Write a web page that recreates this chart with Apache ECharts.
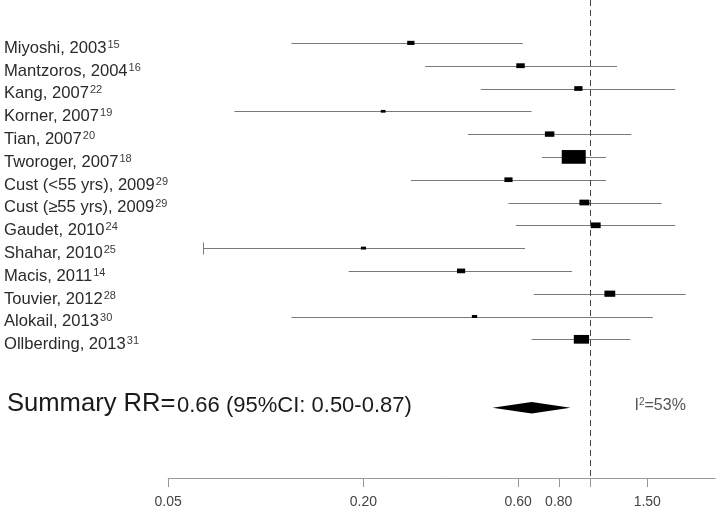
<!DOCTYPE html>
<html><head><meta charset="utf-8">
<script src="https://cdn.jsdelivr.net/npm/echarts@6/dist/echarts.min.js"></script>
<style>html,body{margin:0;padding:0;background:#fff}#c{width:720px;height:512px}</style>
</head><body><div id="c"></div>
<script>
// ---- data ----
const studies = ['Miyoshi, 2003','Mantzoros, 2004','Kang, 2007','Korner, 2007','Tian, 2007','Tworoger, 2007',
  'Cust (<55 yrs), 2009','Cust (\u226555 yrs), 2009','Gaudet, 2010','Shahar, 2010','Macis, 2011','Touvier, 2012',
  'Alokail, 2013','Ollberding, 2013'];
const refs = ['15','16','22','19','20','18','29','29','24','25','14','28','30','31'];
const rr    = [0.28,0.61,0.92,0.23,0.75,0.89,0.56,0.96,1.04,0.20,0.40,1.15,0.44,0.94];
const lower = [0.12,0.31,0.46,0.08,0.42,0.71,0.28,0.56,0.59,0.064,0.18,0.67,0.12,0.66];
const upper = [0.62,1.21,1.83,0.66,1.34,1.12,1.12,1.66,1.83,0.63,0.88,1.97,1.56,1.33];
const weights = [30,41,39,13,51,329,38,57,57,15,38,67,16,133];
const cappedRows = [9];
const summaryRR = [0.66, 0.50, 0.87];   // estimate, lower, upper
const I2 = [53];
const tickValues = [0.05,0.2,0.6,0.8,1,1.5];
const tickLabels = ['0.05','0.20','0.60','0.80','','1.50'];

// ---- layout / style ----
const FONT = "'Liberation Sans', Arial, sans-serif";
const SUMMARY_ROW = 16;
const Y_MIN = -1.8816, Y_MAX = 19.083;
const ASPECT = 1.75;
const LINE_C = '#7a7a7a';
const crisp = v => Math.round(v) + 0.5;

const chart = echarts.init(document.getElementById('c'), null, {renderer:'canvas'});

const rowData = studies.map((s,i) => [i, lower[i], rr[i], upper[i], weights[i]]);

const option = {
  animation: false,
  backgroundColor: '#fff',
  grid: {left: 168.2, right: 4.8, top: 0, bottom: 34, containLabel: false},
  xAxis: {
    type: 'log', logBase: 10, min: 0.05, max: 2.43,
    axisLine: {show: true, onZero: false, lineStyle: {color: '#999', width: 1}},
    axisTick: {show: false}, axisLabel: {show: false}, splitLine: {show: false}
  },
  yAxis: {type: 'value', inverse: true, min: Y_MIN, max: Y_MAX, show: false},
  series: [
    {
      type: 'custom', name: 'studies', coordinateSystem: 'cartesian2d',
      encode: {x: [1,2,3], y: 0},
      data: rowData,
      renderItem(params, api) {
        const i = api.value(0);
        const lo = api.coord([api.value(1), i]);
        const mid = api.coord([api.value(2), i]);
        const hi = api.coord([api.value(3), i]);
        const w = api.value(4);
        const bw = Math.sqrt(w * ASPECT), bh = Math.sqrt(w / ASPECT);
        const y = crisp(mid[1]);
        const children = [
          {type:'line', shape:{x1:lo[0], y1:y, x2:hi[0], y2:y}, style:{stroke:LINE_C, lineWidth:1}},
          {type:'rect', shape:{x:mid[0]-bw/2, y:mid[1]-bh/2, width:bw, height:bh}, style:{fill:'#000'}},
          {type:'text', x: 4, y: mid[1] + 5.4, style:{
            text: '{n|' + studies[i] + '}{s|' + refs[i] + '}',
            align:'left', verticalAlign:'middle',
            rich: {
              n: {fontSize:16.6, lineHeight:18, fontFamily:FONT, fill:'#2a2a2a'},
              s: {fontSize:11, lineHeight:12, fontFamily:FONT, fill:'#3a3a3a', verticalAlign:'top', padding:[0,0,0,1]}
            }
          }}
        ];
        if (cappedRows.indexOf(i) >= 0) {
          children.push({type:'line', shape:{x1:crisp(lo[0]), y1:y-6, x2:crisp(lo[0]), y2:y+6}, style:{stroke:LINE_C, lineWidth:1}});
        }
        return {type:'group', children};
      },
      markLine: {
        silent: true, symbol: ['none','none'],
        label: {show:false},
        lineStyle: {color:'#444', width:1, type:[6,4]},
        data: [{xAxis: 1}]
      }
    },
    {
      type: 'custom', name: 'summary', coordinateSystem: 'cartesian2d',
      encode: {x: [0,1,2], y: 3},
      data: [[summaryRR[1], summaryRR[0], summaryRR[2], SUMMARY_ROW]],
      renderItem(params, api) {
        const r = api.value(3);
        const l = api.coord([api.value(0), r]);
        const m = api.coord([api.value(1), r]);
        const u = api.coord([api.value(2), r]);
        const h = 5.8;
        const txt = summaryRR[0].toFixed(2) + ' (95%CI: ' + summaryRR[1].toFixed(2) + '-' + summaryRR[2].toFixed(2) + ')';
        return {type:'group', children:[
          {type:'polygon', shape:{points:[[l[0],m[1]],[m[0],m[1]-h],[u[0],m[1]],[m[0],m[1]+h]]}, style:{fill:'#000'}},
          {type:'text', x: 7, y: m[1] - 4, style:{
            text: '{a|Summary RR=}{b|' + txt + '}',
            align:'left', verticalAlign:'middle',
            rich: {
              a: {fontSize:25.6, lineHeight:26, fontFamily:FONT, fill:'#1a1a1a'},
              b: {fontSize:22, lineHeight:23, fontFamily:FONT, fill:'#1a1a1a', verticalAlign:'bottom', padding:[0,0,0,1.5]}
            }
          }},
          {type:'text', x: 634.5, y: m[1] - 2.3, style:{
            text: '{n|I}{s|2}{n|=' + I2[0] + '%}',
            align:'left', verticalAlign:'middle',
            rich: {
              n: {fontSize:16, lineHeight:17, fontFamily:FONT, fill:'#555'},
              s: {fontSize:10, lineHeight:11, fontFamily:FONT, fill:'#555', verticalAlign:'top'}
            }
          }}
        ]};
      }
    },
    {
      type: 'custom', name: 'ticks', coordinateSystem: 'cartesian2d',
      encode: {x: 0, y: 1},
      data: tickValues.map((v,i) => [v, Y_MAX, i]),
      renderItem(params, api) {
        const p = api.coord([api.value(0), api.value(1)]);
        const i = api.value(2);
        const x = crisp(p[0]);
        return {type:'group', children:[
          {type:'line', shape:{x1:x, y1:p[1], x2:x, y2:p[1]+9}, style:{stroke:'#999', lineWidth:1}},
          {type:'text', x: p[0], y: p[1] + 24, style:{
            text: tickLabels[i], align:'center', verticalAlign:'middle',
            fontSize: 14, fontFamily: FONT, fill:'#444'
          }}
        ]};
      }
    }
  ]
};
chart.setOption(option);
</script>
</body></html>
